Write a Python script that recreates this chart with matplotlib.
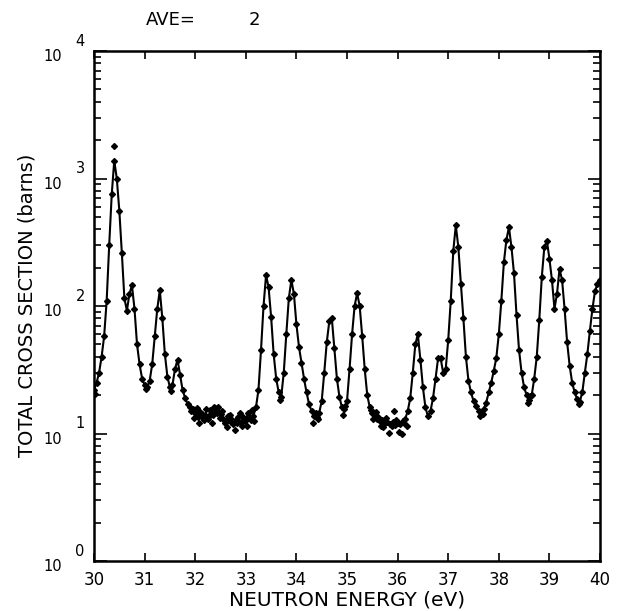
import matplotlib.pyplot as plt
import numpy as np
from matplotlib.ticker import LogLocator, NullFormatter

# energias (eV) e secao de choque total (barns)
energia = [
    30.00, 30.05, 30.10, 30.15, 30.20, 30.25, 30.30, 30.35, 30.40, 30.45,
    30.50, 30.55, 30.60, 30.65, 30.70, 30.75, 30.80, 30.85, 30.90, 30.95,
    31.00, 31.05, 31.10, 31.15, 31.20, 31.25, 31.30, 31.35, 31.40, 31.45,
    31.50, 31.55, 31.60, 31.65, 31.70, 31.75, 31.80, 31.85, 31.90, 31.95,
    32.00, 32.05, 32.10, 32.15, 32.20, 32.25, 32.30, 32.35, 32.40, 32.45,
    32.50, 32.55, 32.60, 32.65, 32.70, 32.75, 32.80, 32.85, 32.90, 32.95,
    33.00, 33.05, 33.10, 33.15, 33.20, 33.25, 33.30, 33.35, 33.40, 33.45,
    33.50, 33.55, 33.60, 33.65, 33.70, 33.75, 33.80, 33.85, 33.90, 33.95,
    34.00, 34.05, 34.10, 34.15, 34.20, 34.25, 34.30, 34.35, 34.40, 34.45,
    34.50, 34.55, 34.60, 34.65, 34.70, 34.75, 34.80, 34.85, 34.90, 34.95,
    35.00, 35.05, 35.10, 35.15, 35.20, 35.25, 35.30, 35.35, 35.40, 35.45,
    35.50, 35.55, 35.60, 35.65, 35.70, 35.75, 35.80, 35.85, 35.90, 35.95,
    36.00, 36.05, 36.10, 36.15, 36.20, 36.25, 36.30, 36.35, 36.40, 36.45,
    36.50, 36.55, 36.60, 36.65, 36.70, 36.75, 36.80, 36.85, 36.90, 36.95,
    37.00, 37.05, 37.10, 37.15, 37.20, 37.25, 37.30, 37.35, 37.40, 37.45,
    37.50, 37.55, 37.60, 37.65, 37.70, 37.75, 37.80, 37.85, 37.90, 37.95,
    38.00, 38.05, 38.10, 38.15, 38.20, 38.25, 38.30, 38.35, 38.40, 38.45,
    38.50, 38.55, 38.60, 38.65, 38.70, 38.75, 38.80, 38.85, 38.90, 38.95,
    39.00, 39.05, 39.10, 39.15, 39.20, 39.25, 39.30, 39.35, 39.40, 39.45,
    39.50, 39.55, 39.60, 39.65, 39.70, 39.75, 39.80, 39.85, 39.90, 39.95,
    40.00,
]
secao = [
    22, 25, 30, 40, 58, 110, 300, 750, 1380, 1000,
    560, 260, 115, 92, 125, 145, 95, 50, 35, 27,
    24, 23, 26, 35, 58, 95, 133, 80, 42, 28,
    23, 24, 32, 38, 29, 22, 19, 17, 16, 15.5,
    14.5, 13.5, 14.8, 13.2, 14.0, 13.0, 15.2, 14.0, 15.8, 16.0,
    14.2, 13.0, 12.5, 13.6, 12.3, 11.8, 12.8, 13.4, 12.2, 13.5,
    13.0, 14.5, 12.8, 13.8, 16.0, 22, 45, 100, 175, 140,
    82, 42, 27, 21, 19.4, 30, 60, 115, 160, 125,
    72, 48, 36, 27, 21, 17, 15, 13.8, 13.5, 14.5,
    18, 30, 52, 76, 80, 47, 27, 19.4, 16, 15.5,
    18, 32, 60, 100, 126, 100, 58, 32, 20, 16,
    14.5, 13.8, 13.0, 12.5, 12.8, 12.0, 12.4, 11.8, 12.3, 11.6,
    12.2, 11.9, 12.5, 13.0, 15, 19, 30, 50, 60, 38,
    23, 16, 13.6, 15, 19, 27, 39, 39, 30, 32,
    54, 110, 270, 430, 290, 150, 80, 40, 26, 21,
    18, 16.5, 15, 14.6, 15.5, 17.5, 21, 25, 31, 39,
    60, 110, 220, 330, 415, 290, 180, 85, 45, 30,
    23, 20, 18.4, 20, 27, 40, 78, 170, 290, 325,
    235, 160, 95, 125, 195, 160, 95, 52, 34, 25,
    21, 18.5, 17.8, 21, 30, 42, 64, 95, 130, 150,
    160,
]

# pontos dispersos (ruido) nas regioes planas e nos vales
ruido_e = [30.40, 31.92, 31.98, 32.03, 32.08, 32.13, 32.18, 32.22, 32.28, 32.33,
           32.37, 32.43, 32.48, 32.52, 32.58, 32.62, 32.68, 32.73, 32.78, 32.83,
           32.88, 32.93, 32.98, 33.03, 33.08, 33.12, 33.17, 34.33, 34.38, 34.42,
           34.92, 34.97, 35.47, 35.52, 35.57, 35.62, 35.68, 35.72, 35.78, 35.83,
           35.88, 35.92, 35.97, 36.02, 36.08, 36.12, 36.18, 37.62, 37.68, 38.58,
           38.62, 30.02, 31.03, 31.52, 33.68, 39.58]
ruido_s = [1800, 15.0, 13.2, 15.8, 12.2, 14.2, 12.8, 15.5, 13.6, 12.0,
           16.2, 14.4, 13.2, 15.0, 12.0, 11.2, 14.0, 12.8, 10.6, 12.0,
           14.6, 11.5, 12.6, 11.5, 13.2, 15.2, 12.6, 12.0, 14.6, 13.0,
           14.0, 16.5, 15.2, 13.0, 14.8, 13.4, 11.5, 11.2, 13.3, 10.1,
           11.4, 15.0, 12.8, 10.2, 10.0, 12.0, 11.4, 13.8, 14.2, 17.4,
           19.6, 20.5, 22.2, 21.5, 18.2, 17.0]

fig = plt.figure(figsize=(6.21, 6.11), dpi=100)
ax = fig.add_axes([0.1514, 0.0818, 0.8148, 0.8347])

ax.plot(energia, secao, color='black', lw=1.5, marker='D', ms=3.0,
        mfc='black', mec='black')
ax.plot(ruido_e, ruido_s, ls='none', color='black', marker='D', ms=3.0)

ax.set_yscale('log')
ax.set_xlim(30, 40)
ax.set_ylim(1, 1e4)
ax.set_xticks(np.arange(30, 41, 1))
ax.set_xticklabels([str(v) for v in range(30, 41)], fontsize=12)
ax.yaxis.set_major_locator(LogLocator(base=10))
ax.yaxis.set_minor_locator(LogLocator(base=10, subs=np.arange(2, 10)))
ax.yaxis.set_major_formatter(NullFormatter())
ax.yaxis.set_minor_formatter(NullFormatter())

ax.tick_params(axis='both', which='both', direction='in', top=True, right=True,
               width=1.2)
ax.tick_params(axis='y', which='major', length=9)
ax.tick_params(axis='y', which='minor', length=5)
ax.tick_params(axis='x', which='major', length=6, pad=7)
for s in ax.spines.values():
    s.set_linewidth(1.8)

# rotulos 10^n no estilo do original
for n in range(5):
    ax.annotate('10', xy=(0, 10 ** n), xycoords=('axes fraction', 'data'),
                xytext=(-30, -4), textcoords='offset points',
                ha='center', va='center', fontsize=10.5)
    ax.annotate(str(n), xy=(0, 10 ** n), xycoords=('axes fraction', 'data'),
                xytext=(-10, 7), textcoords='offset points',
                ha='center', va='center', fontsize=10.5)

fig.text(0.5588, 0.018, 'NEUTRON ENERGY (eV)', fontsize=14.5,
         ha='center', va='center')
fig.text(0.0435, 0.50, 'TOTAL CROSS SECTION (barns)', fontsize=14,
         rotation=90, ha='center', va='center')
fig.text(0.235, 0.968, 'AVE=', fontsize=13, va='center')
fig.text(0.40, 0.968, '2', fontsize=13, va='center')

plt.savefig('out.png', dpi=100)
